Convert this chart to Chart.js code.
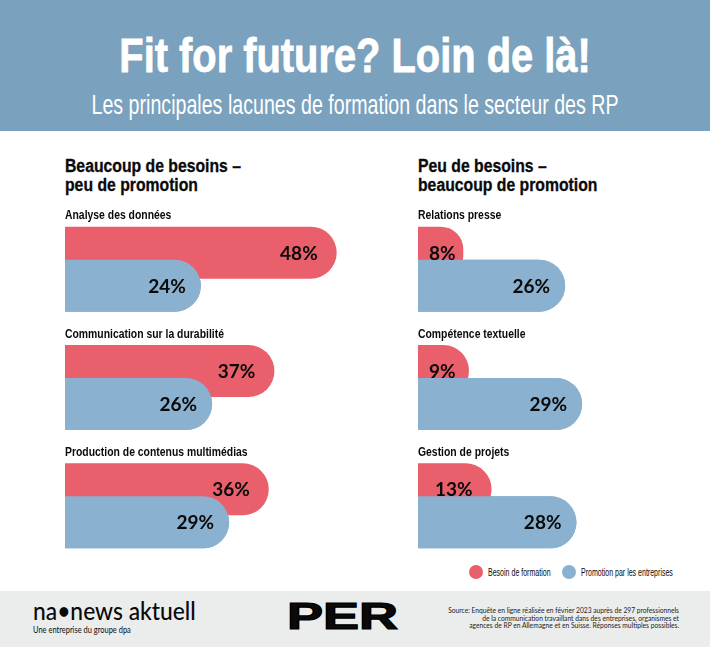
<!DOCTYPE html>
<html lang="fr">
<head>
  <meta charset="UTF-8">
  <title>Fit for future? Loin de là!</title>
  <script src="https://cdn.jsdelivr.net/npm/chart.js"></script>
  <style>
    html, body { margin: 0; padding: 0; background: #fff; }
    body { width: 710px; height: 647px; position: relative; overflow: hidden; color: #0a0a0a; font-family: "Liberation Sans", sans-serif; }
    .abs { position: absolute; white-space: nowrap; }
    #header { position: absolute; left: 0; top: 0; width: 710px; height: 131px; background: #7aa1bd; }
    #title { left: 0; width: 710px; top: 31px; text-align: center; color: #fff; font-weight: 700; font-size: 48px; line-height: 50px; transform: scaleX(0.83); -webkit-text-stroke: 0.8px #fff; }
    #subtitle { left: -50px; width: 810px; top: 90px; text-align: center; color: #fff; font-size: 27px; line-height: 30px; transform: scaleX(0.727); }
    .section { font-weight: 700; font-size: 18px; line-height: 19px; top: 157px; transform-origin: left top; transform: scaleX(0.875); -webkit-text-stroke: 0.3px #0a0a0a; }
    canvas { position: absolute; }
    .dot { position: absolute; width: 14px; height: 14px; border-radius: 50%; top: 565px; }
    .leg { font-size: 10.5px; line-height: 14px; top: 565px; transform-origin: left top; transform: scaleX(0.67); }
    #footer { position: absolute; left: 0; top: 591px; width: 710px; height: 56px; background: #ebeded; }
    #logo { left: 33px; top: 597px; font-family: Lato, sans-serif; font-weight: 500; font-size: 24px; line-height: 28px; transform-origin: left top; transform: scaleX(0.95); }
    #logosub { left: 33px; top: 624px; font-family: Lato, sans-serif; font-size: 8.5px; line-height: 12px; transform-origin: left top; transform: scaleX(0.88); }
    #per { left: 287px; top: 596px; font-family: "Liberation Sans", sans-serif; font-weight: 700; font-size: 36px; line-height: 42px; transform-origin: left center; transform: scaleX(1.5); -webkit-text-stroke: 1.2px #000; }
    #source { right: 31px; top: 607px; text-align: right; font-family: Lato, sans-serif; font-size: 6.7px; line-height: 7.6px; color: #222; }
  </style>
</head>
<body>
  <div id="header"></div>
  <div class="abs" id="title">Fit for future? Loin de là!</div>
  <div class="abs" id="subtitle">Les principales lacunes de formation dans le secteur des RP</div>

  <div class="abs section" style="left:65px">Beaucoup de besoins –<br>peu de promotion</div>
  <div class="abs section" style="left:418px">Peu de besoins –<br>beaucoup de promotion</div>

  <canvas id="leftChart" width="300" height="355" style="left:65px;top:210px"></canvas>
  <canvas id="rightChart" width="280" height="355" style="left:418px;top:210px"></canvas>

  <div class="dot" id="dotNeed" style="left:469px"></div>
  <div class="abs leg" style="left:488px" id="legNeed"></div>
  <div class="dot" id="dotPromo" style="left:562px"></div>
  <div class="abs leg" style="left:581px" id="legPromo"></div>

  <div id="footer"></div>
  <div class="abs" id="logo">na•news aktuell</div>
  <div class="abs" id="logosub">Une entreprise du groupe dpa</div>
  <div class="abs" id="per">PER</div>
  <div class="abs" id="source">Source: Enquête en ligne réalisée en février 2023 auprès de 297 professionnels<br>de la communication travaillant dans des entreprises, organismes et<br>agences de RP en Allemagne et en Suisse. Réponses multiples possibles.</div>

  <script>
    // Data
    const seriesNames = ['Besoin de formation', 'Promotion par les entreprises'];

    const leftCategories = ['Analyse des données', 'Communication sur la durabilité', 'Production de contenus multimédias'];
    const leftNeed = [48, 37, 36];
    const leftPromo = [24, 26, 29];

    const rightCategories = ['Relations presse', 'Compétence textuelle', 'Gestion de projets'];
    const rightNeed = [8, 9, 13];
    const rightPromo = [26, 29, 28];

    const RED = '#e95f6b';
    const BLUE = '#8ab1cf';

    document.getElementById('dotNeed').style.background = RED;
    document.getElementById('dotPromo').style.background = BLUE;
    document.getElementById('legNeed').textContent = seriesNames[0];
    document.getElementById('legPromo').textContent = seriesNames[1];

    // Blue bars lie over the red ones, percent values and category names go on top
    const barText = {
      id: 'barText',
      afterDatasetsDraw(chart) {
        chart.getDatasetMeta(1).controller.draw();

        const ctx = chart.ctx;
        ctx.save();
        ctx.fillStyle = '#0a0a0a';
        ctx.textBaseline = 'middle';

        chart.getSortedVisibleDatasetMetas().forEach(meta => {
          const values = chart.data.datasets[meta.index].data;
          const inset = meta.index === 1 ? 15 : 19;
          meta.data.forEach((bar, i) => {
            const label = values[i] + '%';
            ctx.font = '700 19px Lato, sans-serif';
            ctx.textAlign = 'right';
            const minRight = bar.base + 11 + ctx.measureText(label).width;
            ctx.fillText(label, Math.max(bar.x - inset, minRight), bar.y + 1);
          });
        });

        // No narrow font installed, so the category names are squeezed
        const yScale = chart.scales.y;
        ctx.font = '700 13px "Liberation Sans", sans-serif';
        ctx.textAlign = 'left';
        chart.data.labels.forEach((name, i) => {
          ctx.save();
          ctx.translate(chart.chartArea.left, yScale.getPixelForValue(i) - 53.5);
          ctx.scale(0.8, 1);
          ctx.fillText(name, 0, 0);
          ctx.restore();
        });
        ctx.restore();
      }
    };

    function makeChart(id, categories, need, promo, xMax) {
      return new Chart(document.getElementById(id), {
        type: 'bar',
        data: {
          labels: categories,
          datasets: [
            { label: seriesNames[0], data: need, backgroundColor: RED },
            { label: seriesNames[1], data: promo, backgroundColor: BLUE }
          ]
        },
        options: {
          indexAxis: 'y',
          responsive: false,
          animation: false,
          layout: { padding: 0 },
          datasets: {
            bar: {
              categoryPercentage: 0.558,
              barPercentage: 1.576,
              borderWidth: 0,
              borderRadius: { topRight: 26, bottomRight: 26, topLeft: 0, bottomLeft: 0 },
              borderSkipped: false
            }
          },
          scales: {
            x: { display: false, min: 0, max: xMax },
            y: { display: false }
          },
          plugins: {
            legend: { display: false },
            tooltip: { enabled: false }
          }
        },
        plugins: [barText]
      });
    }

    makeChart('leftChart', leftCategories, leftNeed, leftPromo, 53);
    makeChart('rightChart', rightCategories, rightNeed, rightPromo, 49.47);
  </script>
</body>
</html>
